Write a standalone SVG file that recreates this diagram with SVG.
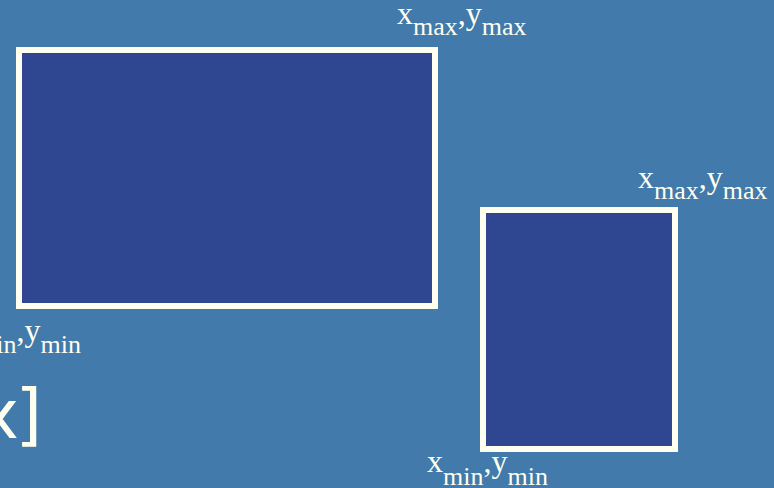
<svg xmlns="http://www.w3.org/2000/svg" width="774" height="488" viewBox="0 0 774 488">
<style>
.box{fill:#2f4690;stroke:#fffff0;stroke-width:6}
.lbl{font-family:"Liberation Serif","Times New Roman",serif;font-size:32px;fill:#fffff0}
.sub{font-size:26px}
.big{font-family:"DejaVu Sans",Verdana,sans-serif;font-size:68px;fill:#fffff0}
</style>
<rect width="774" height="488" fill="#417aab"/>
<g id="box1"><rect class="box" x="19" y="50" width="416" height="256"/></g>
<g id="box2"><rect class="box" x="483" y="210" width="192" height="239"/></g>
<g id="labels">
<text class="lbl" x="397" y="24">x<tspan class="sub" dy="11">max</tspan><tspan dy="-11">,y</tspan><tspan class="sub" dy="11">max</tspan></text>
<text class="lbl" x="638" y="188">x<tspan class="sub" dy="11">max</tspan><tspan dy="-11">,y</tspan><tspan class="sub" dy="11">max</tspan></text>
<text class="lbl" x="427" y="472">x<tspan class="sub" dy="13">min</tspan><tspan dy="-13">,y</tspan><tspan class="sub" dy="13">min</tspan></text>
<text class="lbl" x="81" y="341" text-anchor="end">x<tspan class="sub" dy="12">min</tspan><tspan dy="-12">,y</tspan><tspan class="sub" dy="12">min</tspan></text>
<text class="big" x="42" y="438" text-anchor="end"><tspan x="19">x</tspan><tspan x="42">]</tspan></text>
</g>
</svg>
